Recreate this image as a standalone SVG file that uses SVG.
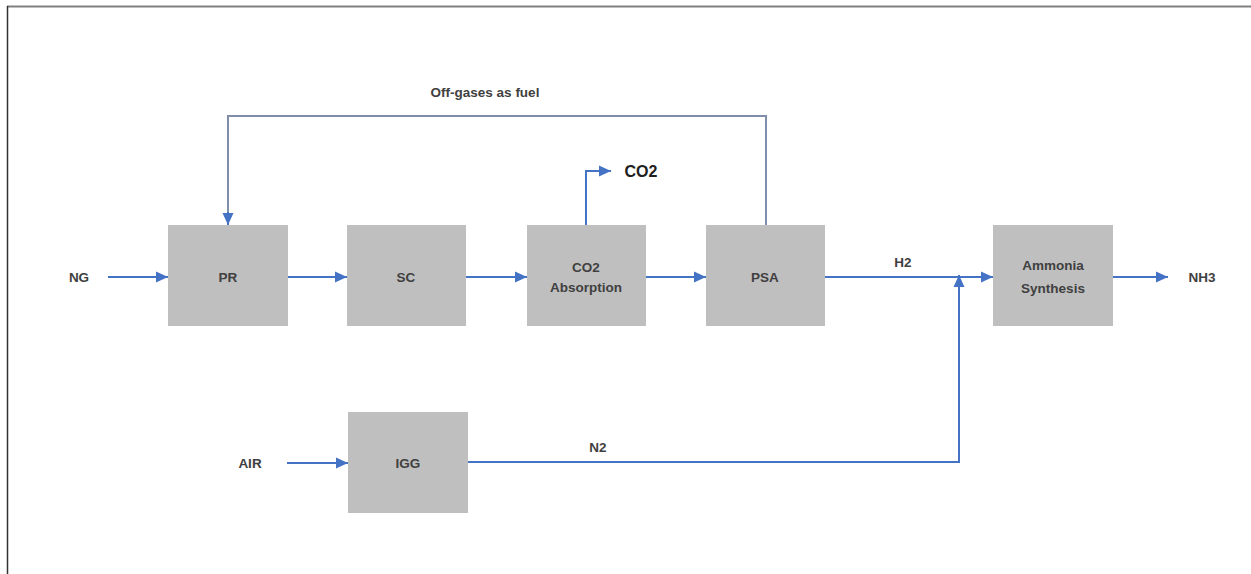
<svg xmlns="http://www.w3.org/2000/svg" width="1251" height="574" viewBox="0 0 1251 574">
<defs>
<marker id="arr" markerWidth="12" markerHeight="12" refX="12" refY="6" orient="auto" markerUnits="userSpaceOnUse">
<path d="M0,0.5 L12,6 L0,11.5 Z" fill="#4472C4"/>
</marker>
<style>
.box{fill:#bfbfbf;}
.lbl{font-family:"Liberation Sans",Arial,sans-serif;font-size:13.5px;font-weight:bold;fill:#404040;text-anchor:middle;dominant-baseline:central;}
.ln{fill:none;stroke:#4472C4;stroke-width:2;}
.fb{fill:none;stroke:#7f8fab;stroke-width:2;}
</style>
</defs>
<rect x="0" y="0" width="1251" height="574" fill="#ffffff"/>
<g id="frame">
<line x1="7" y1="6.5" x2="1251" y2="6.5" stroke="#808080" stroke-width="2"/>
<line x1="7.5" y1="6" x2="7.5" y2="574" stroke="#333333" stroke-width="1.5"/>
</g>
<g id="connectors">
<line class="ln" x1="108" y1="277" x2="168" y2="277" marker-end="url(#arr)"/>
<line class="ln" x1="288" y1="277" x2="347" y2="277" marker-end="url(#arr)"/>
<line class="ln" x1="466" y1="277" x2="527" y2="277" marker-end="url(#arr)"/>
<line class="ln" x1="646" y1="277" x2="706" y2="277" marker-end="url(#arr)"/>
<line class="ln" x1="825" y1="277" x2="993" y2="277" marker-end="url(#arr)"/>
<line class="ln" x1="1113" y1="277" x2="1168" y2="277" marker-end="url(#arr)"/>
<polyline class="ln" points="586,225 586,171 611,171" marker-end="url(#arr)"/>
<polyline class="fb" points="766,225 766,116 228,116 228,217"/>
<line class="ln" x1="228" y1="212" x2="228" y2="225" marker-end="url(#arr)"/>
<line class="ln" x1="287" y1="463" x2="348" y2="463" marker-end="url(#arr)"/>
<polyline class="ln" points="468,462 959,462 959,285"/>
<line class="ln" x1="959" y1="290" x2="959" y2="275" marker-end="url(#arr)"/>
<text class="lbl" x="485" y="92">Off-gases as fuel</text>
<text class="lbl" x="903" y="262">H2</text>
<text class="lbl" x="598" y="447">N2</text>
<text class="lbl" x="641" y="171" style="font-size:16px;fill:#202020">CO2</text>
<text class="lbl" x="79" y="277">NG</text>
<text class="lbl" x="250" y="463">AIR</text>
<text class="lbl" x="1202" y="277">NH3</text>
</g>
<g id="PR"><rect class="box" x="168" y="225" width="120" height="101"/><text class="lbl" x="228" y="277">PR</text></g>
<g id="SC"><rect class="box" x="347" y="225" width="119" height="101"/><text class="lbl" x="406" y="277">SC</text></g>
<g id="CO2Absorption"><rect class="box" x="527" y="225" width="119" height="101"/><text class="lbl" x="586" y="267">CO2</text><text class="lbl" x="586" y="287">Absorption</text></g>
<g id="PSA"><rect class="box" x="706" y="225" width="119" height="101"/><text class="lbl" x="765" y="277">PSA</text></g>
<g id="AmmoniaSynthesis"><rect class="box" x="993" y="225" width="120" height="101"/><text class="lbl" x="1053" y="265">Ammonia</text><text class="lbl" x="1053" y="288">Synthesis</text></g>
<g id="IGG"><rect class="box" x="348" y="412" width="120" height="101"/><text class="lbl" x="408" y="463">IGG</text></g>
</svg>
